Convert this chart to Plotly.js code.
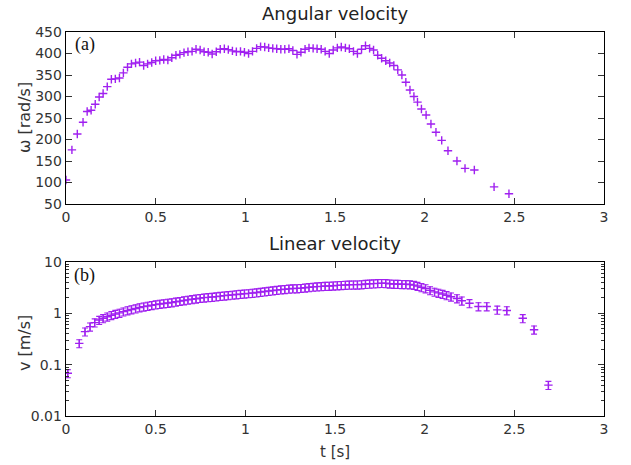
<!DOCTYPE html>
<html><head><meta charset="utf-8">
<script src="https://cdn.plot.ly/plotly-3.0.1.min.js"></script>
<style>html,body{margin:0;padding:0;background:#fff}</style>
</head><body><div id="chart" style="width:631px;height:465px"></div>
<script>
// Angular velocity data (t [s], omega [rad/s])
var tAng = [0.000,0.033,0.063,0.095,0.118,0.140,0.163,0.185,0.207,0.230,0.253,0.275,0.298,0.320,0.343,0.365,0.388,0.410,0.433,0.455,0.478,0.500,0.523,0.545,0.568,0.590,0.613,0.635,0.658,0.680,0.703,0.725,0.748,0.770,0.793,0.815,0.838,0.860,0.883,0.905,0.928,0.950,0.973,0.995,1.018,1.040,1.063,1.085,1.108,1.130,1.153,1.175,1.198,1.220,1.243,1.265,1.288,1.310,1.333,1.355,1.378,1.400,1.423,1.445,1.468,1.490,1.513,1.535,1.558,1.580,1.603,1.625,1.648,1.670,1.693,1.715,1.738,1.760,1.783,1.805,1.828,1.850,1.873,1.895,1.918,1.940,1.960,1.982,2.008,2.035,2.063,2.095,2.130,2.180,2.225,2.277,2.387,2.470];
var omega = [106,176,213,240,265,268,282,299,307,323,340,341,343,355,368,376,378,380,372,376,379,383,384,386,385,390,396,398,402,404,405,410,408,404,403,399,404,410,411,409,406,404,405,403,400,405,412,416,415,413,412,411,410,410,411,407,398,403,410,413,412,411,410,405,400,408,413,415,413,411,405,400,410,418,412,408,396,389,383,378,372,362,350,333,315,300,287,271,257,236,217,198,174,150,133,129,90,74];

// Linear velocity data (t [s], v [m/s])
var tLin = [0.010,0.074,0.106,0.134,0.160,0.185,0.207,0.230,0.253,0.275,0.298,0.320,0.343,0.365,0.388,0.410,0.433,0.455,0.478,0.500,0.523,0.545,0.568,0.590,0.613,0.635,0.658,0.680,0.703,0.725,0.748,0.770,0.793,0.815,0.838,0.860,0.883,0.905,0.928,0.950,0.973,0.995,1.018,1.040,1.063,1.085,1.108,1.130,1.153,1.175,1.198,1.220,1.243,1.265,1.288,1.310,1.333,1.355,1.378,1.400,1.423,1.445,1.468,1.490,1.513,1.535,1.558,1.580,1.603,1.625,1.648,1.670,1.693,1.715,1.738,1.760,1.783,1.805,1.828,1.850,1.873,1.895,1.918,1.940,1.960,1.982,2.005,2.030,2.055,2.077,2.100,2.122,2.147,2.180,2.207,2.250,2.300,2.346,2.405,2.458,2.547,2.610,2.690];
var vel = [0.068,0.26,0.44,0.55,0.66,0.74,0.80,0.86,0.92,0.97,1.02,1.08,1.14,1.19,1.24,1.30,1.35,1.39,1.44,1.48,1.52,1.56,1.59,1.63,1.68,1.73,1.78,1.83,1.88,1.93,1.98,2.02,2.05,2.08,2.12,2.17,2.21,2.25,2.29,2.33,2.37,2.41,2.45,2.49,2.54,2.60,2.66,2.72,2.78,2.84,2.90,2.95,3.00,3.04,3.06,3.10,3.16,3.22,3.28,3.32,3.36,3.40,3.42,3.46,3.50,3.54,3.57,3.60,3.62,3.62,3.66,3.72,3.76,3.80,3.84,3.88,3.85,3.78,3.74,3.72,3.70,3.68,3.65,3.55,3.40,3.22,3.05,2.80,2.62,2.50,2.38,2.25,2.11,1.95,1.76,1.57,1.36,1.36,1.17,1.14,0.80,0.48,0.040];
var velErrPct = 18;

var xTicks = [0,0.5,1,1.5,2,2.5,3];
var xTickText = ['0','0.5','1','1.5','2','2.5','3'];
var yTicksA = [50,100,150,200,250,300,350,400,450];
var yTicksB = [0.01,0.1,1,10];
var yTickTextB = ['0.01','0.1','1','10'];
var yMinorB = [0.02,0.03,0.04,0.05,0.06,0.07,0.08,0.09,0.2,0.3,0.4,0.5,0.6,0.7,0.8,0.9,2,3,4,5,6,7,8,9];

var col = '#a020f0';
var tickFont = {family:'DejaVu Sans', size:14, color:'#333'};

var axisCommon = {
  showline:true, linecolor:'#000', linewidth:1.3, mirror:'ticks',
  ticks:'inside', ticklen:6, tickwidth:1, tickcolor:'#333',
  showgrid:false, zeroline:false, tickfont:tickFont
};

var traces = [
  {x:tAng, y:omega, type:'scatter', mode:'markers', xaxis:'x', yaxis:'y',
   marker:{symbol:'cross-thin-open', size:6, color:col, line:{color:col, width:1.4}}},
  {x:tLin, y:vel, type:'scatter', mode:'markers', xaxis:'x2', yaxis:'y2',
   marker:{symbol:'cross-thin-open', size:6, color:col, line:{color:col, width:1.4}},
   error_y:{type:'percent', value:velErrPct, color:col, thickness:1.1, width:3}}
];

var layout = {
  width:631, height:465, showlegend:false,
  paper_bgcolor:'#fff', plot_bgcolor:'#fff',
  margin:{l:66, r:27, t:32, b:49},
  xaxis: Object.assign({}, axisCommon, {domain:[0,1], range:[0,3], anchor:'y',
    tickmode:'array', tickvals:xTicks, ticktext:xTickText}),
  yaxis: Object.assign({}, axisCommon, {domain:[0.552,1], range:[50,450], anchor:'x',
    tickmode:'array', tickvals:yTicksA}),
  xaxis2: Object.assign({}, axisCommon, {domain:[0,1], range:[0,3], anchor:'y2',
    tickmode:'array', tickvals:xTicks, ticktext:xTickText}),
  yaxis2: Object.assign({}, axisCommon, {domain:[0,0.401], type:'log', range:[-2,1], anchor:'x2',
    tickmode:'array', tickvals:yTicksB, ticktext:yTickTextB,
    minor:{tickmode:'array', tickvals:yMinorB, ticks:'inside', ticklen:3, tickcolor:'#333', showgrid:false}}),
  annotations:[
    {text:'Angular velocity', xref:'paper', yref:'paper', x:0.5, y:1.047, showarrow:false,
     xanchor:'center', yanchor:'middle', font:{family:'DejaVu Sans', size:18, color:'#222'}},
    {text:'Linear velocity', xref:'paper', yref:'paper', x:0.5, y:0.4505, showarrow:false,
     xanchor:'center', yanchor:'middle', font:{family:'DejaVu Sans', size:18, color:'#222'}},
    {text:'t [s]', xref:'paper', yref:'paper', x:0.5, y:-0.094, showarrow:false,
     xanchor:'center', yanchor:'middle', font:{family:'DejaVu Sans', size:15, color:'#333'}},
    {text:'ω [rad/s]', xref:'paper', yref:'paper', x:-0.078, y:0.776, showarrow:false, textangle:-90,
     xanchor:'center', yanchor:'middle', font:{family:'DejaVu Sans', size:16, color:'#333'}},
    {text:'v [m/s]', xref:'paper', yref:'paper', x:-0.078, y:0.19, showarrow:false, textangle:-90,
     xanchor:'center', yanchor:'middle', font:{family:'DejaVu Sans', size:16, color:'#333'}},
    {text:'(a)', xref:'paper', yref:'paper', x:0.035, y:0.967, showarrow:false,
     xanchor:'center', yanchor:'middle', font:{family:'Liberation Serif', size:18, color:'#111'}},
    {text:'(b)', xref:'paper', yref:'paper', x:0.035, y:0.366, showarrow:false,
     xanchor:'center', yanchor:'middle', font:{family:'Liberation Serif', size:18, color:'#111'}}
  ]
};

Plotly.newPlot('chart', traces, layout, {staticPlot:true, displayModeBar:false});
</script>
</body></html>
